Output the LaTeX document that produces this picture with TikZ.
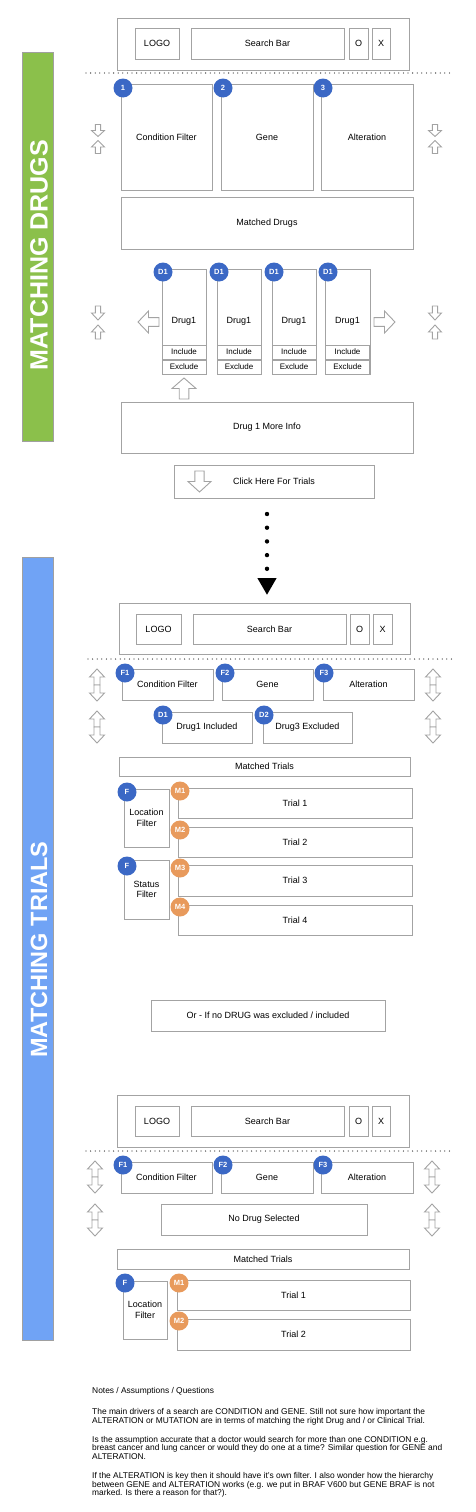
\documentclass[tikz,border=0pt]{standalone}
\usepackage{fontspec}
\setmainfont{Liberation Sans}
\usepackage{xcolor}
\definecolor{LineGray}{HTML}{A3A3A3}
\definecolor{BadgeBlue}{HTML}{3B68C5}
\definecolor{BadgeOrange}{HTML}{E89A5C}
\definecolor{DrugsGreen}{HTML}{8BC04B}
\definecolor{TrialsBlue}{HTML}{70A3F5}
\definecolor{BarEdge}{HTML}{A0A0A0}
\usetikzlibrary{positioning,arrows.meta}

\begin{document}
\begin{tikzpicture}[
  x=1pt, y=-1pt,
  box/.style={
    draw=LineGray,
    line width=0.9pt,
    fill=white,
    inner sep=1pt,
    outer sep=0pt,
    align=center,
    anchor=north west,
    font=\fontsize{9}{10.5}\selectfont
  },
  hdr/.style={box, minimum height=31pt},
  small/.style={box, minimum width=44pt, minimum height=14pt, font=\fontsize{8}{9}\selectfont},
  filt/.style={box, minimum width=91pt, minimum height=31pt},
  trial/.style={box, minimum width=234pt, minimum height=30pt},
  badge/.style={
    circle,
    fill=BadgeBlue,
    text=white,
    inner sep=0pt,
    minimum size=19pt,
    font=\fontsize{7.5}{7.5}\selectfont\bfseries
  },
  mbadge/.style={badge, fill=BadgeOrange},
  bar/.style={draw=BarEdge, line width=0.9pt, anchor=north west, minimum width=31pt, inner sep=0pt},
  bartitle/.style={rotate=90, text=white, font=\fontsize{24}{24}\selectfont\bfseries},
  sepline/.style={draw=black!80, line width=1.3pt, line cap=round, dash pattern=on 0pt off 4.6pt},
  dotlink/.style={line width=4.4pt, line cap=round, dash pattern=on 0pt off 13.7pt,
    -{Triangle[length=17pt,width=18pt]}},
  pics/blockarrow/.style={code={
    \draw[draw=LineGray, fill=white, line width=0.9pt]
      (-0.2,-0.5) -- (0.2,-0.5) -- (0.2,0) -- (0.5,0) -- (0,0.5) -- (-0.5,0) -- (-0.2,0) -- cycle;
  }}
]
\useasboundingbox (0,0) rectangle (476,1512);

% =========================================================
% MATCHING DRUGS
% =========================================================

\node[bar, fill=DrugsGreen, minimum height=389pt] (drugsbar) at (22,52) {};
\node[bartitle, font=\fontsize{25}{25}\selectfont\bfseries] (drugstitle) at (39,255) {MATCHING DRUGS};

\node[box, minimum width=292pt, minimum height=52pt] (frameA) at (117,18) {};
\node[hdr, minimum width=44pt] (logoA) at (135,28) {LOGO};
\node[hdr, minimum width=153pt, right=12pt of logoA] (searchA) {Search Bar};
\node[hdr, minimum width=19pt, right=5pt of searchA] (okA) {O};
\node[hdr, minimum width=18pt, right=4pt of okA] (closeA) {X};

\draw[sepline] (86,73) -- (452,73);

\node[box, minimum width=91pt, minimum height=106pt] (condA) at (121,84) {Condition Filter};
\node[box, minimum width=92pt, minimum height=106pt, right=9pt of condA] (geneA) {Gene};
\node[box, minimum width=92pt, minimum height=106pt, right=8pt of geneA] (altA) {Alteration};
\node[badge] (bcondA) at ([shift={(2,4)}]condA.north west) {1};
\node[badge] (bgeneA) at ([shift={(2,4)}]geneA.north west) {2};
\node[badge] (baltA) at ([shift={(2,4)}]altA.north west) {3};

\node[box, minimum width=292pt, minimum height=52pt] (matchedDrugs) at (121,197) {Matched Drugs};

% drug carousel
\node[box, minimum width=44pt, minimum height=105pt] (drugA) at (162,269) {Drug1};
\node[box, minimum width=44pt, minimum height=105pt, right=11pt of drugA] (drugB) {Drug1};
\node[box, minimum width=44pt, minimum height=105pt, right=11pt of drugB] (drugC) {Drug1};
\node[box, minimum width=45pt, minimum height=105pt, right=9pt of drugC] (drugD) {Drug1};

\node[small, anchor=south] (exclA) at (drugA.south) {Exclude};
\node[small, anchor=south] (exclB) at (drugB.south) {Exclude};
\node[small, anchor=south] (exclC) at (drugC.south) {Exclude};
\node[small, anchor=south] (exclD) at (drugD.south) {Exclude};
\node[small, above=1pt of exclA] (inclA) {Include};
\node[small, above=1pt of exclB] (inclB) {Include};
\node[small, above=1pt of exclC] (inclC) {Include};
\node[small, above=1pt of exclD] (inclD) {Include};

\node[badge] (bdrugA) at ([shift={(1,3)}]drugA.north west) {D1};
\node[badge] (bdrugB) at ([shift={(2,3)}]drugB.north west) {D1};
\node[badge] (bdrugC) at ([shift={(2,3)}]drugC.north west) {D1};
\node[badge] (bdrugD) at ([shift={(3,3)}]drugD.north west) {D1};

\pic[rotate=-90, xscale=22, yscale=21] (prevA) at (148.5,322) {blockarrow};
\pic[rotate=90, xscale=22, yscale=21] (nextA) at (384.5,322) {blockarrow};
\pic[rotate=180, xscale=24, yscale=21] (moreA) at (184,388.5) {blockarrow};

% collapse icons
\pic[xscale=13, yscale=12] at (98,130.5) {blockarrow};
\pic[rotate=180, xscale=13, yscale=13] at (98,147) {blockarrow};
\pic[xscale=13, yscale=12] at (435,130.5) {blockarrow};
\pic[rotate=180, xscale=13, yscale=13] at (435,147) {blockarrow};
\pic[xscale=13, yscale=14] at (98,313) {blockarrow};
\pic[rotate=180, xscale=13, yscale=14] at (98,332) {blockarrow};
\pic[xscale=13, yscale=14] at (435,313) {blockarrow};
\pic[rotate=180, xscale=13, yscale=14] at (435,332) {blockarrow};

\node[box, minimum width=292pt, minimum height=51pt] (moreInfo) at (121,402) {Drug 1 More Info};
\node[box, minimum width=200pt, minimum height=33pt] (click) at (174,465) {Click Here For Trials};
\pic[xscale=23, yscale=21] (clickarrow) at (199.5,481.5) {blockarrow};

% =========================================================
% MATCHING TRIALS
% =========================================================

\node[bar, fill=TrialsBlue, minimum height=783pt] (trialsbar) at (22,557) {};
\node[bartitle, font=\fontsize{23.5}{23.5}\selectfont\bfseries] (trialstitle) at (39,949.5) {MATCHING TRIALS};

\node[box, minimum width=291pt, minimum height=51pt] (frameB) at (119,603) {};
\node[hdr, minimum width=45pt, minimum height=30pt] (logoB) at (136,614) {LOGO};
\node[hdr, minimum width=153pt, minimum height=30pt, right=12pt of logoB] (searchB) {Search Bar};
\node[hdr, minimum width=19pt, minimum height=30pt, right=4pt of searchB] (okB) {O};
\node[hdr, minimum width=19pt, minimum height=30pt, right=4pt of okB] (closeB) {X};

\draw[dotlink] ([xshift=-7pt,yshift=-16pt]click.south) -- ([xshift=2.5pt,yshift=8pt]frameB.north);

\draw[sepline] (88,659) -- (453,659);

\node[filt] (condB) at (122,669) {Condition Filter};
\node[filt, right=9pt of condB] (geneB) {Gene};
\node[filt, right=10pt of geneB] (altB) {Alteration};
\node[badge] (bcondB) at ([shift={(3,4)}]condB.north west) {F1};
\node[badge] (bgeneB) at ([shift={(3,4)}]geneB.north west) {F2};
\node[badge] (baltB) at ([shift={(1,4)}]altB.north west) {F3};

\node[box, minimum width=90pt, minimum height=31pt] (inclDrug) at (162,712) {Drug1 Included};
\node[box, minimum width=89pt, minimum height=31pt, right=11pt of inclDrug] (exclDrug) {Drug3 Excluded};
\node[badge] (binclDrug) at ([shift={(1,3)}]inclDrug.north west) {D1};
\node[badge] (bexclDrug) at ([shift={(1,3)}]exclDrug.north west) {D2};

% expand icons
\pic[rotate=180, xscale=15, yscale=16] at (97,677) {blockarrow};
\pic[xscale=15, yscale=16] at (97,693) {blockarrow};
\pic[rotate=180, xscale=15, yscale=16] at (433,677) {blockarrow};
\pic[xscale=15, yscale=16] at (433,693) {blockarrow};
\pic[rotate=180, xscale=15, yscale=16] at (97,719) {blockarrow};
\pic[xscale=15, yscale=16] at (97,735) {blockarrow};
\pic[rotate=180, xscale=15, yscale=16] at (433,719) {blockarrow};
\pic[xscale=15, yscale=16] at (433,735) {blockarrow};

\node[box, minimum width=291pt, minimum height=19pt] (matchedB) at (119,757) {Matched Trials};

\node[box, minimum width=45pt, minimum height=58pt] (locB) at (124,789) {Location\\Filter};
\node[box, minimum width=45pt, minimum height=59pt] (statusB) at (124,860) {Status\\Filter};
\node[badge] (blocB) at ([shift={(3,3)}]locB.north west) {F};
\node[badge] (bstatusB) at ([shift={(3,6)}]statusB.north west) {F};

\node[trial] (trialB1) at (178,788) {Trial 1};
\node[trial, below=9pt of trialB1] (trialB2) {Trial 2};
\node[trial, minimum height=31pt, below=8pt of trialB2] (trialB3) {Trial 3};
\node[trial, below=9pt of trialB3] (trialB4) {Trial 4};
\node[mbadge] (mB1) at ([shift={(2,3)}]trialB1.north west) {M1};
\node[mbadge] (mB2) at ([shift={(2,3)}]trialB2.north west) {M2};
\node[mbadge] (mB3) at ([shift={(2,3)}]trialB3.north west) {M3};
\node[mbadge] (mB4) at ([shift={(2,2)}]trialB4.north west) {M4};

\node[box, minimum width=234pt, minimum height=31pt] (orbox) at (151,1000) {Or - If no DRUG was excluded / included};

% =========================================================
% NO DRUG SELECTED
% =========================================================

\node[box, minimum width=292pt, minimum height=52pt] (frameC) at (117,1095) {};
\node[hdr, minimum width=44pt, minimum height=30pt] (logoC) at (135,1106) {LOGO};
\node[hdr, minimum width=153pt, minimum height=30pt, right=12pt of logoC] (searchC) {Search Bar};
\node[hdr, minimum width=19pt, minimum height=30pt, right=5pt of searchC] (okC) {O};
\node[hdr, minimum width=18pt, minimum height=30pt, right=4pt of okC] (closeC) {X};

\draw[sepline] (86,1151) -- (452,1151);

\node[filt] (condC) at (121,1162) {Condition Filter};
\node[filt, minimum width=92pt, right=9pt of condC] (geneC) {Gene};
\node[filt, minimum width=92pt, right=8pt of geneC] (altC) {Alteration};
\node[badge] (bcondC) at ([shift={(2,3)}]condC.north west) {F1};
\node[badge] (bgeneC) at ([shift={(2,3)}]geneC.north west) {F2};
\node[badge] (baltC) at ([shift={(2,3)}]altC.north west) {F3};

\node[box, minimum width=206pt, minimum height=31pt] (nodrug) at (161,1204) {No Drug Selected};

\pic[rotate=180, xscale=15, yscale=16] at (95,1169) {blockarrow};
\pic[xscale=15, yscale=16] at (95,1185) {blockarrow};
\pic[rotate=180, xscale=15, yscale=16] at (432,1169) {blockarrow};
\pic[xscale=15, yscale=16] at (432,1185) {blockarrow};
\pic[rotate=180, xscale=15, yscale=16] at (95,1212) {blockarrow};
\pic[xscale=15, yscale=16] at (95,1228) {blockarrow};
\pic[rotate=180, xscale=15, yscale=16] at (432,1212) {blockarrow};
\pic[xscale=15, yscale=16] at (432,1228) {blockarrow};

\node[box, minimum width=292pt, minimum height=20pt] (matchedC) at (117,1249) {Matched Trials};

\node[box, minimum width=44pt, minimum height=58pt] (locC) at (123,1281) {Location\\Filter};
\node[badge] (blocC) at ([shift={(2,2)}]locC.north west) {F};

\node[trial, minimum width=233pt] (trialC1) at (177,1280) {Trial 1};
\node[trial, minimum width=233pt, minimum height=31pt, below=9pt of trialC1] (trialC2) {Trial 2};
\node[mbadge] (mC1) at ([shift={(2,3)}]trialC1.north west) {M1};
\node[mbadge] (mC2) at ([shift={(2,2)}]trialC2.north west) {M2};

% =========================================================
% NOTES
% =========================================================

\node[anchor=north west, align=left, inner sep=0pt, font=\fontsize{8.4}{8.7}\selectfont] (notes) at (92,1387)
{Notes / Assumptions / Questions\\[12.3pt]
The main drivers of a search are CONDITION and GENE. Still not sure how important the\\
ALTERATION or MUTATION are in terms of matching the right Drug and / or Clinical Trial.\\[10.3pt]
Is the assumption accurate that a doctor would search for more than one CONDITION e.g.\\
breast cancer and lung cancer or would they do one at a time? Similar question for GENE and\\
ALTERATION.\\[10.3pt]
If the ALTERATION is key then it should have it's own filter. I also wonder how the hierarchy\\
between GENE and ALTERATION works (e.g. we put in BRAF V600 but GENE BRAF is not\\
marked. Is there a reason for that?).};

\end{tikzpicture}
\end{document}
